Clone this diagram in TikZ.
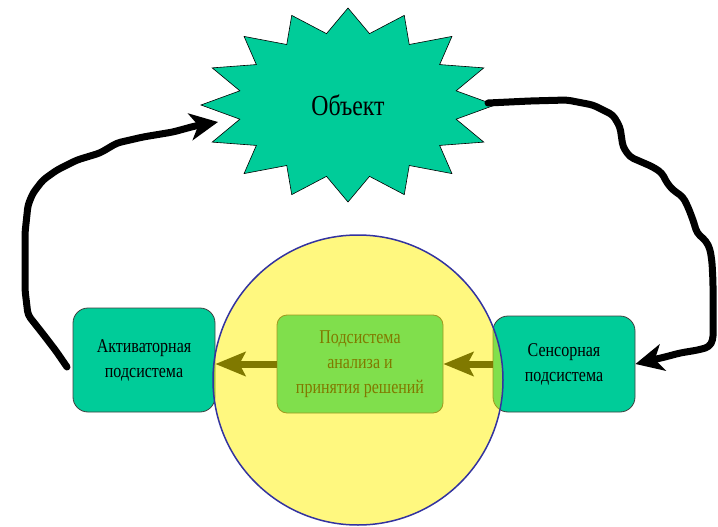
\documentclass[tikz,border=0pt]{standalone}
\usepackage{fontspec}
\setmainfont{Liberation Serif}
\newfontfamily\condfont[FakeStretch=0.82]{Liberation Serif}
\usetikzlibrary{arrows.meta}
\definecolor{boxteal}{RGB}{0,204,153}
\definecolor{ringblue}{RGB}{51,51,160}
\tikzset{
  sysbox/.style={draw=black!75, line width=0.8pt, fill=boxteal, rounded corners=15pt,
    align=center, font=\condfont\fontsize{19.5}{25}\selectfont, text=black, inner sep=0pt},
  flowarrow/.style={line width=7pt, draw=black, -{Stealth[length=30pt,width=24pt,inset=6pt]}},
  fatarrow/.style={line width=7pt, draw=black, rounded corners=4pt, line join=round, line cap=round,
    -{Stealth[length=28pt,width=27pt,inset=8pt]}},
}
\begin{document}
\begin{tikzpicture}[x=1pt,y=-1pt]
\useasboundingbox (0,0) rectangle (718,527);
\fill[white] (0,0) rectangle (718,527);
% star (object)
\filldraw[fill=boxteal, draw=black, line width=0.6pt]
  plot[samples at={0,...,31}, variable=\k]
  ({348+147*(1-0.25*mod(\k,2))*cos(\k*11.25)}, {105+97*(1-0.25*mod(\k,2))*sin(\k*11.25)}) -- cycle;
\node (obj) at (348,105) {\condfont\fontsize{29}{32}\selectfont Объект};
\coordinate (objR) at (488,103);
\coordinate (objL) at (218,122);
% boxes
\node[sysbox, minimum width=142pt, minimum height=104pt] (act) at (144,360) {Активаторная\\подсистема};
\node[sysbox, minimum width=142pt, minimum height=96pt] (sens) at (564,364) {Сенсорная\\подсистема};
\node[sysbox, rounded corners=10pt, minimum width=166pt, minimum height=98pt] (ana) at (360,364) {Подсистема\\анализа и\\принятия решений};
% inner arrows
\draw[flowarrow] (sens.west) -- (ana.east);
\draw[flowarrow] (ana.west) -- (ana.west -| act.east);
% semi-transparent circle
\node[circle, minimum size=290pt, inner sep=0pt, draw=ringblue, line width=1.5pt, fill=yellow, fill opacity=0.5, draw opacity=1] (core) at (358,380) {};
% outer feedback arrows
\coordinate (actS) at (67,367);
\draw[fatarrow] (objR) -- (530,101) -- (567,100) -- (593,105) -- (613,115) -- (620,127) -- (623,147)
  -- (630,157) -- (653,167) -- (662,173) -- (667,183) -- (673,190) -- (683,197) -- (688,207)
  -- (693,220) -- (697,233) -- (706,241) -- (710,249) -- (712,262) -- (713,282) -- (713,313)
  -- (713,340) -- (709,347) -- (698,350) -- (680,353) -- (665,357) -- (sens.east);
\draw[fatarrow] (actS) -- (56,351) -- (43,334) -- (28,315) -- (25,290) -- (25,233) -- (28,205)
  -- (33,193) -- (43,180) -- (57,170) -- (77,160) -- (100,153) -- (117,143) -- (143,137)
  -- (173,132) -- (195,126) -- (objL);
\end{tikzpicture}
\end{document}
